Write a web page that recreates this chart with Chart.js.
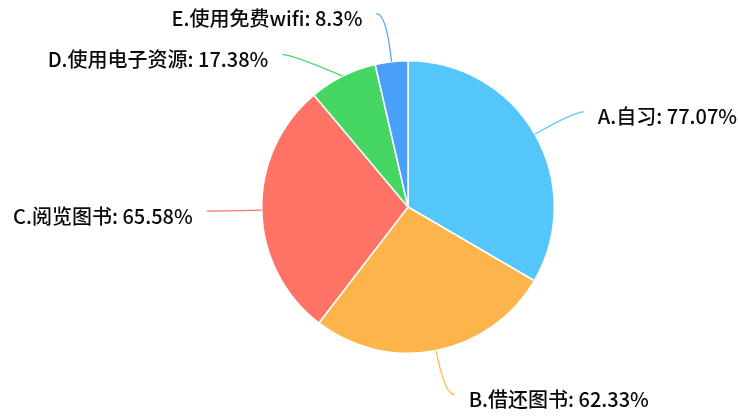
<!DOCTYPE html>
<html><head><meta charset="utf-8">
<script src="https://cdn.jsdelivr.net/npm/chart.js@4.4.1/dist/chart.umd.min.js"></script>
<style>html,body{margin:0;padding:0;background:#fff;}canvas{display:block;}</style>
</head><body>
<canvas id="c" width="738" height="419"></canvas>
<script>
const categories = ['A.自习', 'B.借还图书', 'C.阅览图书', 'D.使用电子资源', 'E.使用免费wifi'];
const percentLabels = ['77.07%', '62.33%', '65.58%', '17.38%', '8.3%'];
const values = [77.07, 62.33, 65.58, 17.38, 8.3];
const colors = ['#55C6FC', '#FDB54B', '#FE7366', '#46D762', '#4A9FFB'];

const FONT = '500 20px "Noto Sans CJK SC", "Noto Sans", sans-serif';
const L1 = 45, L2 = 10, GAP = 14, MINSP = 41;

const leaderPlugin = {
  id: 'leaders',
  afterDatasetsDraw(chart) {
    const ctx = chart.ctx;
    const arcs = chart.getDatasetMeta(0).data;
    const items = arcs.map((a, i) => {
      const mid = (a.startAngle + a.endAngle) / 2;
      const cx = a.x, cy = a.y, r = a.outerRadius;
      const cos = Math.cos(mid), sin = Math.sin(mid);
      const p0 = {x: cx + r * cos, y: cy + r * sin};
      const p1 = {x: cx + (r + L1) * cos, y: cy + (r + L1) * sin};
      return {i, cx, cy, r, p0, p1, right: cos >= 0, y: p1.y};
    });
    [true, false].forEach(side => {
      const g = items.filter(o => o.right === side).sort((a, b) => a.y - b.y);
      for (let k = 1; k < g.length; k++) {
        const d = MINSP - (g[k].y - g[k - 1].y);
        if (d > 0) { g[k - 1].y -= d * 0.15; g[k].y += d * 0.85; }
      }
    });
    ctx.save();
    ctx.font = FONT;
    ctx.textBaseline = 'middle';
    items.forEach(o => {
      const R = o.r + L1;
      let cx1 = o.p1.x;
      const dy = o.y - o.cy;
      if (Math.abs(o.y - o.p1.y) > 0.5 && Math.abs(dy) < R) {
        cx1 = o.cx + (o.right ? 1 : -1) * Math.sqrt(R * R - dy * dy);
      }
      const corner = {x: cx1, y: o.y};
      const end = {x: cx1 + (o.right ? L2 : -L2), y: o.y};
      ctx.strokeStyle = colors[o.i];
      ctx.lineWidth = 1.2;
      ctx.beginPath();
      ctx.moveTo(o.p0.x, o.p0.y);
      ctx.quadraticCurveTo(corner.x, corner.y, end.x, end.y);
      ctx.stroke();
      const txt = categories[o.i] + ': ' + percentLabels[o.i];
      ctx.fillStyle = '#0a0a0a';
      ctx.textAlign = o.right ? 'left' : 'right';
      ctx.fillText(txt, end.x + (o.right ? GAP : -GAP), end.y + 5);
    });
    ctx.restore();
  }
};

new Chart(document.getElementById('c'), {
  type: 'pie',
  data: {
    labels: categories,
    datasets: [{
      data: values,
      backgroundColor: colors,
      borderColor: '#ffffff',
      borderWidth: 1.5
    }]
  },
  options: {
    responsive: false,
    animation: false,
    events: [],
    layout: {padding: {left: 261, right: 183, top: 60, bottom: 65}},
    plugins: {legend: {display: false}, tooltip: {enabled: false}, title: {display: false}}
  },
  plugins: [leaderPlugin]
});
</script>
</body></html>
